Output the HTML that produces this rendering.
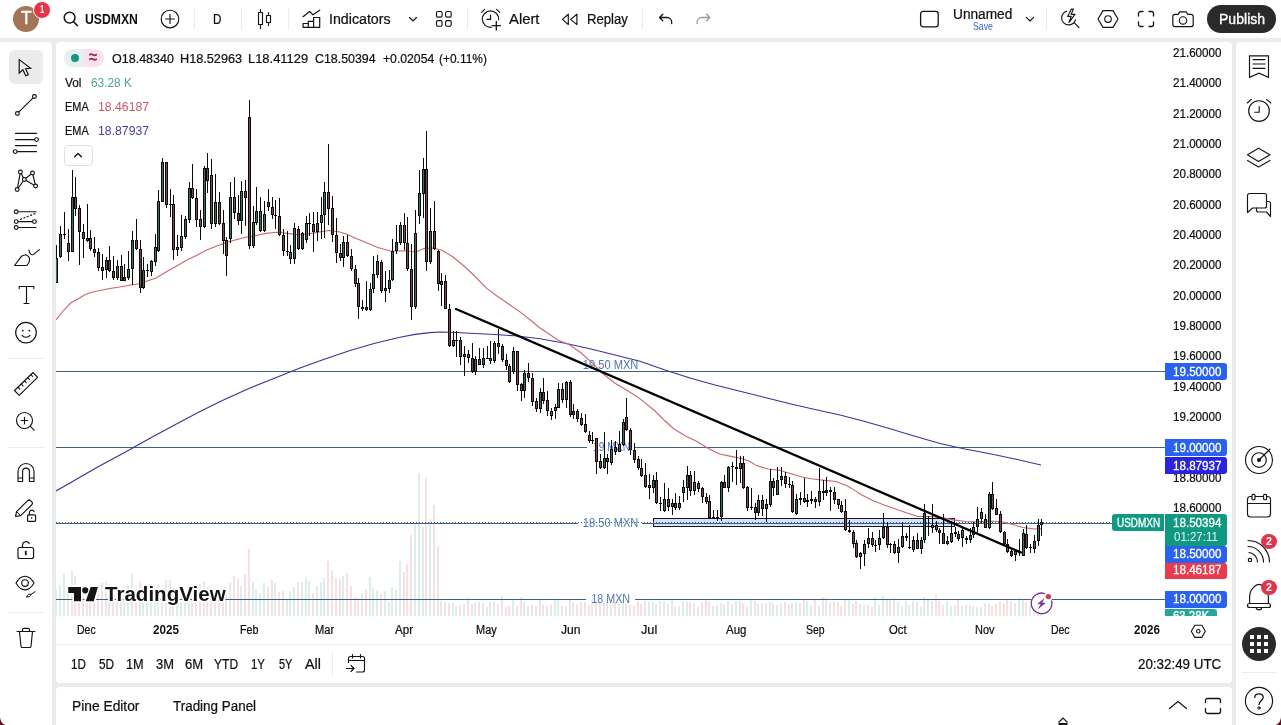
<!DOCTYPE html>
<html lang="en">
<head>
<meta charset="utf-8">
<title>USDMXN 18.50394 ▲ +0.11% Unnamed</title>
<style>
*{box-sizing:border-box;margin:0;padding:0}
html,body{width:1281px;height:725px;overflow:hidden}
body{background:#ebebeb;font-family:"Liberation Sans",sans-serif;color:#0f0f0f;position:relative;font-size:14px}
.abs{position:absolute}
.panel{position:absolute;background:#fff}
#top{left:0;top:0;width:1281px;height:38px}
#left{left:0;top:42px;width:52px;height:683px;border-top-right-radius:4px}
#chart{left:56px;top:42px;width:1176px;height:641px;border-radius:4px;overflow:hidden}
#bottom{left:56px;top:687px;width:1176px;height:38px;border-radius:4px 4px 0 0}
#right{left:1236px;top:42px;width:45px;height:683px;border-top-left-radius:4px}
.t{position:absolute;white-space:nowrap;line-height:1;transform-origin:0 0}
.ic{position:absolute;overflow:visible}
.ic *{fill:none;stroke:#141414;stroke-width:1.15;stroke-linecap:round;stroke-linejoin:round}
.ic .f{fill:#141414;stroke:none}
.ic .w{fill:#fff}
.vsep{position:absolute;width:1px;background:#ececec;top:8px;height:22px}
.hsep{position:absolute;height:1px;background:#ebebeb}
.ax{position:absolute;left:1173px;font-size:11.6px;line-height:12px;white-space:nowrap;color:#0f0f0f}
.lb{position:absolute;left:1165px;width:62px;color:#fff;font-weight:bold;font-size:11.6px;line-height:16px;padding-left:8px;white-space:nowrap;border-radius:0 3px 3px 0;letter-spacing:-0.35px}
.tm{position:absolute;top:623px;font-size:11.6px;line-height:14px;white-space:nowrap;color:#0f0f0f;transform:translateX(-50%)}
.badge{position:absolute;background:#e0364a;border-radius:50%;color:#fff;font-weight:bold;text-align:center}
.rng{position:absolute;top:656px;font-size:13.6px;line-height:16px;white-space:nowrap;color:#0f0f0f}
.lg{position:absolute;font-size:12.3px;line-height:14px;white-space:nowrap;color:#0f0f0f}
</style>
</head>
<body>

<!-- ======= top toolbar ======= -->
<div class="panel" id="top"></div>
<div class="abs" style="left:13px;top:6px;width:26px;height:26px;border-radius:50%;background:#a37556"></div>
<div class="badge" style="left:33px;top:1px;width:18px;height:18px;border:1px solid #fff;background:#ea3347"></div>
<svg class="ic" style="left:62px;top:10px" width="18" height="18" viewBox="0 0 18 18"><circle cx="7.6" cy="7.6" r="5.4" style="stroke-width:1.5"/><path d="M11.6 11.8L15.4 15.6" style="stroke-width:1.5"/></svg>
<svg class="ic" style="left:160px;top:9px" width="20" height="20" viewBox="0 0 20 20"><circle cx="10" cy="10" r="8.8"/><path d="M10 5.6V14.4M5.6 10H14.4"/></svg>
<div class="vsep" style="left:194px"></div>
<div class="vsep" style="left:241px"></div>
<svg class="ic" style="left:255px;top:7px" width="20" height="24" viewBox="0 0 20 24"><path d="M5.5 2.5V5.5M5.5 17.5V21.5M3.5 5.5h4v12h-4zM13.5 5.5V8.5M13.5 15.5V18.5M11.5 8.5h4v7h-4z"/></svg>
<div class="vsep" style="left:288px"></div>
<svg class="ic" style="left:300px;top:6px" width="24" height="24" viewBox="0 0 24 24"><path d="M3 10.700L9.700 5.500L13 8.800L19.700 4.200" style="stroke-width:1.200"/><path d="M3.100 21.300V17.500H8.300V21.300M8.300 17.500V15.300H13.600V21.300M13.600 15.300V11.500H19.700V21.300M2.600 21.300H20.200" style="stroke-width:1.200;stroke-linejoin:miter;stroke-linecap:butt"/></svg>
<svg class="ic" style="left:407px;top:14px" width="12" height="10" viewBox="0 0 12 10"><path d="M2.5 3.5L6 7L9.5 3.5"/></svg>
<svg class="ic" style="left:435px;top:10px" width="18" height="18" viewBox="0 0 18 18"><rect x="1.5" y="1.5" width="5.6" height="5.6" rx="1.4"/><rect x="10.6" y="1.5" width="5.6" height="5.6" rx="1.4"/><rect x="1.5" y="10.6" width="5.6" height="5.6" rx="1.4"/><rect x="10.6" y="10.6" width="5.6" height="5.6" rx="1.4"/></svg>
<div class="vsep" style="left:467px"></div>
<svg class="ic" style="left:479px;top:6px" width="24" height="24" viewBox="0 0 24 24"><path d="M19.700 13.600A8.200 8.200 0 1 0 12.400 21.300"/><path d="M11.600 9V13.400H8"/><path d="M2.600 6.400L5.600 3.400M17.600 3.400L20.600 6.400"/><path d="M17.300 15.500V24M13.100 19.700H21.500" style="stroke-width:1.300"/></svg>
<svg class="ic" style="left:560px;top:11px" width="20" height="16" viewBox="0 0 20 16"><path d="M8.300 3.200V13.600L2.500 8.400zM16.900 3.200V13.600L10.600 8.400z" style="stroke-width:1.150"/></svg>
<div class="vsep" style="left:642px"></div>
<svg class="ic" style="left:655px;top:10px" width="20" height="18" viewBox="0 0 20 18"><path d="M7.800 4.200L4.500 7.500L7.800 10.800M4.900 7.500H12a4.700 4.700 0 0 1 4.700 4.700V13.500" style="stroke-width:1.300"/></svg>
<svg class="ic" style="left:693px;top:10px" width="20" height="18" viewBox="0 0 20 18"><path d="M13.600 4.200L16.900 7.500L13.600 10.800M16.500 7.500H8.800a4.700 4.700 0 0 0 -4.700 4.700V13.500" style="stroke:#9a9a9a;stroke-width:1.300"/></svg>

<svg class="ic" style="left:919px;top:9px" width="22" height="20" viewBox="0 0 22 20"><rect x="1.6" y="2.4" width="17.6" height="15.4" rx="2.6" style="stroke-width:1.3"/></svg>
<svg class="ic" style="left:1024px;top:14px" width="12" height="10" viewBox="0 0 12 10"><path d="M2.4 3.4L6 7L9.6 3.4"/></svg>
<div class="vsep" style="left:1046px"></div>
<svg class="ic" style="left:1058px;top:6px" width="24" height="24" viewBox="0 0 24 24"><path d="M8.6 5.2a7 7 0 1 0 8.8 8.6"/><path d="M16.6 17.2L21 21.6"/><path d="M13.4 3L9.6 10.4H13.2L11 16.4L17 8.4H13.2L15.4 3z"/></svg>
<svg class="ic" style="left:1097px;top:8px" width="22" height="22" viewBox="0 0 22 22"><path d="M6 2.6H16L21 11L16 19.4H6L1 11z" style="stroke-width:1.2"/><circle cx="11" cy="11" r="3.3"/></svg>
<svg class="ic" style="left:1137px;top:10px" width="18" height="18" viewBox="0 0 18 18"><path d="M1.5 6V3.5a2 2 0 0 1 2-2H6M12 1.5h2.5a2 2 0 0 1 2 2V6M16.5 12v2.5a2 2 0 0 1-2 2H12M6 16.5H3.500a2 2 0 0 1-2-2V12" style="stroke-width:1.3"/></svg>
<svg class="ic" style="left:1171.400px;top:8px" width="24" height="22" viewBox="0 0 24 22"><path d="M3.8 6.400H7.200L8.800 3.800H15.200L16.800 6.400H20.200a2 2 0 0 1 2 2V16.600a2 2 0 0 1 -2 2H3.800a2 2 0 0 1 -2-2V8.400a2 2 0 0 1 2-2z" style="stroke-width:1.2"/><circle cx="12" cy="12.400" r="3.700"/></svg>
<div class="abs" style="left:1207px;top:5px;width:69px;height:28px;border-radius:14px;background:#2a2a2a"></div>

<!-- ======= left toolbar ======= -->
<div class="panel" id="left"></div>
<div class="abs" style="left:9px;top:50px;width:34px;height:34px;border-radius:6px;background:#ebebec"></div>
<svg class="ic" style="left:12px;top:53px" width="28" height="28" viewBox="0 0 28 28"><path d="M7.2 6.600V20.200L10.900 16.800L13.700 22.800L16.300 21.600L13.600 15.700L18.600 15.300z" style="stroke-width:1.2;stroke-linejoin:miter"/></svg>
<svg class="ic" style="left:12px;top:91px" width="28" height="28" viewBox="0 0 28 28"><path d="M6.700 21.200L21.100 6.800"/><circle cx="22.400" cy="5.500" r="1.900" class="w"/><circle cx="5.400" cy="22.500" r="1.900" class="w"/></svg>
<svg class="ic" style="left:12px;top:129px" width="28" height="28" viewBox="0 0 28 28"><path d="M3.500 4.400H24.500M3.500 10.600H22.600M3.500 16.600H24.500M5.100 22.600H24.500"/><circle cx="24.500" cy="10.600" r="1.900" class="w"/><circle cx="3.200" cy="22.600" r="1.900" class="w"/></svg>
<svg class="ic" style="left:12px;top:167px" width="28" height="28" viewBox="0 0 28 28"><path d="M8.400 5L5.200 22.500L12.300 12.500L8.400 5M12.300 12.500L20.500 6L23.600 19L12.300 12.500"/><circle cx="8.400" cy="5" r="1.900" class="w"/><circle cx="20.500" cy="6" r="1.900" class="w"/><circle cx="12.300" cy="12.500" r="1.900" class="w"/><circle cx="23.600" cy="19" r="1.900" class="w"/><circle cx="5.200" cy="22.500" r="1.900" class="w"/></svg>
<svg class="ic" style="left:12px;top:205px" width="28" height="28" viewBox="0 0 28 28"><path d="M6 6.700H24M6 16.600H20.500M6 22.500H24"/><path d="M8.500 14.300L23 8.600" style="stroke-dasharray:1.200 2.400"/><circle cx="4.200" cy="6.700" r="1.900" class="w"/><circle cx="4.200" cy="16.600" r="1.900" class="w"/><circle cx="22.400" cy="16.600" r="1.900" class="w"/><circle cx="4.200" cy="22.500" r="1.900" class="w"/></svg>
<svg class="ic" style="left:12px;top:243px" width="28" height="28" viewBox="0 0 28 28"><path d="M2.600 22.500L9 13.800C11 11.400 14.400 11.400 16.400 13.400C18.600 15.600 17.800 19.600 14.800 22.500z"/><path d="M17 7C17 10.400 19.400 12.600 21.600 11.400L27.400 6.600"/></svg>
<svg class="ic" style="left:12px;top:281px" width="28" height="28" viewBox="0 0 28 28"><path d="M7.200 7.600V5.500H21.800V7.600M14.500 5.500V22.500M12 22.500H17"/></svg>
<svg class="ic" style="left:12px;top:319px" width="28" height="28" viewBox="0 0 28 28"><circle cx="14" cy="13.600" r="10.300"/><path d="M10 16.400C11.600 18.800 16.400 18.800 18 16.400"/><circle cx="10.800" cy="11.600" r="0.950" class="f"/><circle cx="17.300" cy="11.600" r="0.950" class="f"/></svg>
<div class="hsep" style="left:8px;top:358px;width:36px"></div>
<svg class="ic" style="left:12px;top:370px" width="28" height="28" viewBox="0 0 28 28"><path d="M2.500 20.500L21 2.500L25.600 7.400L7.200 25.400z"/><path d="M6.200 17.400L7.800 19M9.400 14.200L11 15.800M12.600 11L14.200 12.600M15.800 7.800L17.400 9.400M19 4.800L20.600 6.400"/></svg>
<svg class="ic" style="left:12px;top:407px" width="28" height="28" viewBox="0 0 28 28"><circle cx="12.500" cy="13.500" r="8"/><path d="M18.300 19.400L22.200 23.200M12.500 10.200V16.800M9.200 13.500H15.800"/></svg>
<div class="hsep" style="left:8px;top:447px;width:36px"></div>
<svg class="ic" style="left:12px;top:458px" width="28" height="28" viewBox="0 0 28 28"><path d="M6 23.500V13.500a8 8 0 0 1 16 0V23.500H17.400V13.500a3.400 3.400 0 0 0 -6.800 0V23.500zM6 20H10.600M17.400 20H22"/></svg>
<svg class="ic" style="left:12px;top:497px" width="28" height="28" viewBox="0 0 28 28"><path d="M3.500 19.500L4.600 14.600L15.400 3.800C16.400 2.800 17.800 2.800 18.800 3.800L19.600 4.600C20.600 5.600 20.600 7 19.600 8L8.600 18.600z"/><path d="M4.600 14.600L8.600 18.600" style="stroke-width:1"/><rect x="15.600" y="17.800" width="8" height="6.600" rx="1"/><path d="M17.400 17.800V15.400a2.400 2.400 0 0 1 4.600 -0.800"/><circle cx="19.600" cy="21.100" r="0.800" class="f"/></svg>
<svg class="ic" style="left:12px;top:536px" width="28" height="28" viewBox="0 0 28 28"><rect x="6" y="11.500" width="15.600" height="11" rx="2"/><path d="M10.500 11.500V9a3.600 3.600 0 0 1 6.800 -1.400"/><path d="M13.800 15.600V18.400" style="stroke-width:1.800"/></svg>
<svg class="ic" style="left:12px;top:572px" width="28" height="28" viewBox="0 0 28 28"><path d="M4 11C7 5.600 10.400 4.200 13 4.200C15.600 4.200 19 5.600 22 11C19 16.400 15.600 17.800 13 17.800C10.400 17.800 7 16.400 4 11z"/><circle cx="13" cy="11" r="3.300"/><path d="M14.800 24.800C15.200 22.600 17.200 21.400 19 22.400C18.800 24.400 17 25.200 14.800 24.800zM19 22.400L23.200 19.600" style="stroke-width:1"/></svg>
<div class="hsep" style="left:8px;top:612px;width:36px"></div>
<svg class="ic" style="left:12px;top:623px" width="28" height="28" viewBox="0 0 28 28"><path d="M5 8.500H23M10.500 8.500V6.800a1.400 1.400 0 0 1 1.400 -1.400H16.100a1.400 1.400 0 0 1 1.400 1.400V8.500M7.500 8.500L9 23.200a1.400 1.400 0 0 0 1.400 1.300H17.600a1.400 1.400 0 0 0 1.400 -1.300L20.500 8.500"/></svg>

<!-- ======= right toolbar ======= -->
<div class="panel" id="right"></div>
<svg class="ic" style="left:1245px;top:53px" width="28" height="28" viewBox="0 0 28 28"><path d="M4.500 2.800H23.500V24.400L14 20.200L4.500 24.400z" style="stroke-linejoin:miter"/><path d="M8 6.600H20M8 11H20M8 15.400H20"/></svg>
<svg class="ic" style="left:1245px;top:96px" width="28" height="28" viewBox="0 0 28 28"><circle cx="14" cy="15" r="10.300"/><path d="M14.200 10.500V16.200H9.800"/><path d="M2.200 7L6.400 3.400M21.600 3.400L25.800 7"/></svg>
<svg class="ic" style="left:1245px;top:144px" width="28" height="28" viewBox="0 0 28 28"><path d="M13.500 4.200L25 10.800L13.500 17.500L2.500 10.800z"/><path d="M2.500 16.500L13.500 23L25 16.500"/></svg>
<svg class="ic" style="left:1245px;top:190px" width="28" height="28" viewBox="0 0 28 28"><path d="M4.500 3.500H19.500a2 2 0 0 1 2 2V16a2 2 0 0 1 -2 2H7.500L2.500 22.500V5.500a2 2 0 0 1 2 -2z"/><path d="M21.500 11.500H23.500a2 2 0 0 1 2 2V26.500L21.500 22H13.500a2 2 0 0 1 -2 -2V18"/></svg>
<svg class="ic" style="left:1244px;top:445px" width="30" height="30" viewBox="0 0 30 30"><circle cx="15" cy="15" r="13.500"/><circle cx="15" cy="15" r="7.300"/><circle cx="15" cy="15" r="2" class="f"/><path d="M15 15L26 4"/></svg>
<svg class="ic" style="left:1245px;top:492px" width="28" height="28" viewBox="0 0 28 28"><rect x="2.500" y="4.500" width="23" height="20.500" rx="3"/><path d="M2.500 11.500H25.500"/><rect x="7" y="2.300" width="3" height="5.400" rx="1" class="w"/><rect x="18.600" y="2.300" width="3" height="5.400" rx="1" class="w"/></svg>
<svg class="ic" style="left:1245px;top:537px" width="28" height="28" viewBox="0 0 28 28"><path d="M3 3.500A21.500 21.500 0 0 1 24.500 25M3 9.500A15.500 15.500 0 0 1 18.500 25M4 15.500A9.500 9.500 0 0 1 12.500 25"/><circle cx="5" cy="23" r="1.700"/></svg>
<div class="badge" style="left:1261.300px;top:534.100px;width:15.400px;height:15.400px"></div>
<svg class="ic" style="left:1245px;top:582px" width="28" height="28" viewBox="0 0 28 28"><path d="M4.600 21.500V15C4.600 10.500 6.400 7.600 8.600 5.400C10.200 3.600 11.800 2.400 14 2.400C16.200 2.400 17.800 3.600 19.400 5.400C21.600 7.600 23.400 10.500 23.400 15V21.500"/><rect x="2.500" y="21.500" width="23" height="4" rx="2" class="w"/><path d="M11.200 26C11.800 28.400 16.200 28.400 16.800 26"/></svg>
<div class="badge" style="left:1261.300px;top:579.600px;width:15.400px;height:15.400px"></div>
<div class="abs" style="left:1242px;top:627px;width:34px;height:34px;border-radius:50%;background:#2a2a2a"></div>
<svg class="ic" style="left:1242px;top:627px" width="34" height="34" viewBox="0 0 34 34"><path class="f" style="fill:#fff" d="M8 8h4v4h-4zM15 8h4v4h-4zM22 8h4v4h-4zM8 15h4v4h-4zM15 15h4v4h-4zM22 15h4v4h-4zM8 22h4v4h-4zM15 22h4v4h-4zM22 22h4v4h-4z"/></svg>
<div class="hsep" style="left:1242px;top:672px;width:34px"></div>
<svg class="ic" style="left:1245px;top:686.700px" width="28" height="28" viewBox="0 0 28 28"><circle cx="14" cy="14" r="13.600"/><path d="M9.800 10.400C9.800 5.600 18.200 5.600 18.200 10.400C18.200 13.600 14 13.800 14 17.400" style="stroke-width:1.3"/><circle cx="14" cy="21" r="1.200" style="stroke-width:1"/></svg>

<!-- ======= chart panel ======= -->
<div class="panel" id="chart"></div>
<svg class="abs" style="left:0;top:0" width="1281" height="725" viewBox="0 0 1281 725">
<svg x="56" y="42" width="1109" height="574" viewBox="56 42 1109 574" overflow="hidden">
<path d="M55 590h2V616h-2zM59 585h2V616h-2zM63 574h2V616h-2zM71 571h2V616h-2zM86 601h2V616h-2zM105 582h2V616h-2zM116 595h2V616h-2zM123 588h2V616h-2zM127 585h2V616h-2zM131 574h2V616h-2zM142 595h2V616h-2zM146 601h2V616h-2zM150 602h2V616h-2zM154 597h2V616h-2zM157 584h2V616h-2zM161 588h2V616h-2zM169 580h2V616h-2zM176 592h2V616h-2zM180 602h2V616h-2zM184 603h2V616h-2zM188 598h2V616h-2zM203 581h2V616h-2zM214 592h2V616h-2zM229 583h2V616h-2zM240 586h2V616h-2zM252 582h2V616h-2zM255 590h2V616h-2zM259 593h2V616h-2zM263 583h2V616h-2zM274 583h2V616h-2zM286 599h2V616h-2zM289 591h2V616h-2zM293 587h2V616h-2zM301 582h2V616h-2zM305 578h2V616h-2zM308 581h2V616h-2zM316 586h2V616h-2zM320 582h2V616h-2zM323 578h2V616h-2zM342 576h2V616h-2zM361 593h2V616h-2zM369 577h2V616h-2zM372 588h2V616h-2zM376 591h2V616h-2zM384 591h2V616h-2zM388 602h2V616h-2zM391 587h2V616h-2zM395 590h2V616h-2zM399 561h2V616h-2zM414 524h2V616h-2zM418 473h2V616h-2zM422 527h2V616h-2zM429 519h2V616h-2zM440 601h2V616h-2zM452 603h2V616h-2zM455 606h2V616h-2zM463 604h2V616h-2zM474 603h2V616h-2zM482 603h2V616h-2zM486 607h2V616h-2zM493 601h2V616h-2zM512 600h2V616h-2zM523 601h2V616h-2zM539 600h2V616h-2zM550 605h2V616h-2zM554 599h2V616h-2zM557 600h2V616h-2zM565 607h2V616h-2zM572 602h2V616h-2zM591 600h2V616h-2zM603 603h2V616h-2zM610 605h2V616h-2zM618 604h2V616h-2zM622 600h2V616h-2zM648 602h2V616h-2zM652 602h2V616h-2zM659 601h2V616h-2zM663 601h2V616h-2zM671 600h2V616h-2zM678 606h2V616h-2zM682 601h2V616h-2zM686 601h2V616h-2zM693 603h2V616h-2zM712 606h2V616h-2zM716 605h2V616h-2zM720 603h2V616h-2zM727 601h2V616h-2zM731 604h2V616h-2zM735 601h2V616h-2zM739 601h2V616h-2zM750 599h2V616h-2zM757 604h2V616h-2zM765 603h2V616h-2zM769 602h2V616h-2zM776 605h2V616h-2zM780 603h2V616h-2zM788 604h2V616h-2zM795 602h2V616h-2zM799 603h2V616h-2zM806 601h2V616h-2zM810 605h2V616h-2zM818 606h2V616h-2zM825 598h2V616h-2zM848 600h2V616h-2zM859 604h2V616h-2zM863 605h2V616h-2zM874 597h2V616h-2zM878 605h2V616h-2zM882 596h2V616h-2zM889 600h2V616h-2zM897 602h2V616h-2zM901 606h2V616h-2zM908 605h2V616h-2zM912 601h2V616h-2zM920 607h2V616h-2zM923 597h2V616h-2zM927 600h2V616h-2zM931 601h2V616h-2zM946 601h2V616h-2zM950 606h2V616h-2zM954 605h2V616h-2zM961 606h2V616h-2zM969 605h2V616h-2zM972 606h2V616h-2zM976 607h2V616h-2zM980 607h2V616h-2zM988 604h2V616h-2zM1014 603h2V616h-2zM1018 598h2V616h-2zM1022 599h2V616h-2zM1029 606h2V616h-2zM1033 601h2V616h-2zM1037 602h2V616h-2zM1040 605h2V616h-2z" fill="#dcedeb" shape-rendering="crispEdges"/>
<path d="M67 590h2V616h-2zM74 576h2V616h-2zM78 602h2V616h-2zM82 597h2V616h-2zM89 590h2V616h-2zM93 590h2V616h-2zM97 587h2V616h-2zM101 583h2V616h-2zM108 597h2V616h-2zM112 600h2V616h-2zM120 588h2V616h-2zM135 589h2V616h-2zM139 582h2V616h-2zM165 580h2V616h-2zM172 588h2V616h-2zM191 586h2V616h-2zM195 584h2V616h-2zM199 584h2V616h-2zM206 587h2V616h-2zM210 595h2V616h-2zM218 594h2V616h-2zM222 597h2V616h-2zM225 587h2V616h-2zM233 576h2V616h-2zM237 579h2V616h-2zM244 574h2V616h-2zM248 549h2V616h-2zM267 587h2V616h-2zM271 580h2V616h-2zM278 592h2V616h-2zM282 591h2V616h-2zM297 582h2V616h-2zM312 593h2V616h-2zM327 561h2V616h-2zM331 570h2V616h-2zM335 578h2V616h-2zM339 579h2V616h-2zM346 573h2V616h-2zM350 586h2V616h-2zM354 597h2V616h-2zM357 598h2V616h-2zM365 589h2V616h-2zM380 594h2V616h-2zM403 572h2V616h-2zM406 564h2V616h-2zM410 535h2V616h-2zM425 478h2V616h-2zM433 505h2V616h-2zM437 546h2V616h-2zM444 602h2V616h-2zM448 603h2V616h-2zM459 605h2V616h-2zM467 598h2V616h-2zM471 604h2V616h-2zM478 602h2V616h-2zM489 602h2V616h-2zM497 604h2V616h-2zM501 596h2V616h-2zM505 607h2V616h-2zM508 606h2V616h-2zM516 606h2V616h-2zM520 597h2V616h-2zM527 606h2V616h-2zM531 605h2V616h-2zM535 606h2V616h-2zM542 604h2V616h-2zM546 606h2V616h-2zM561 606h2V616h-2zM569 600h2V616h-2zM576 604h2V616h-2zM580 602h2V616h-2zM584 602h2V616h-2zM588 605h2V616h-2zM595 601h2V616h-2zM599 602h2V616h-2zM606 600h2V616h-2zM614 602h2V616h-2zM625 604h2V616h-2zM629 605h2V616h-2zM633 606h2V616h-2zM637 601h2V616h-2zM640 604h2V616h-2zM644 601h2V616h-2zM655 604h2V616h-2zM667 604h2V616h-2zM674 606h2V616h-2zM689 602h2V616h-2zM697 607h2V616h-2zM701 602h2V616h-2zM705 600h2V616h-2zM708 601h2V616h-2zM723 604h2V616h-2zM742 603h2V616h-2zM746 607h2V616h-2zM754 601h2V616h-2zM761 603h2V616h-2zM772 603h2V616h-2zM784 602h2V616h-2zM791 603h2V616h-2zM803 600h2V616h-2zM814 600h2V616h-2zM822 597h2V616h-2zM829 602h2V616h-2zM833 601h2V616h-2zM837 602h2V616h-2zM840 606h2V616h-2zM844 600h2V616h-2zM852 604h2V616h-2zM855 601h2V616h-2zM867 605h2V616h-2zM871 607h2V616h-2zM886 600h2V616h-2zM893 598h2V616h-2zM905 601h2V616h-2zM916 602h2V616h-2zM935 594h2V616h-2zM938 601h2V616h-2zM942 605h2V616h-2zM957 599h2V616h-2zM965 605h2V616h-2zM984 603h2V616h-2zM991 606h2V616h-2zM995 604h2V616h-2zM999 601h2V616h-2zM1003 603h2V616h-2zM1006 600h2V616h-2zM1010 601h2V616h-2zM1025 602h2V616h-2z" fill="#f6e0e1" shape-rendering="crispEdges"/>
<line x1="56" x2="1165" y1="371.5" y2="371.5" stroke="#40607f" stroke-width="1" shape-rendering="crispEdges"/>
<line x1="56" x2="587" y1="447.5" y2="447.5" stroke="#40607f" stroke-width="1" shape-rendering="crispEdges"/>
<line x1="635" x2="1165" y1="447.5" y2="447.5" stroke="#40607f" stroke-width="1" shape-rendering="crispEdges"/>
<line x1="56" x2="586" y1="599.5" y2="599.5" stroke="#40607f" stroke-width="1" shape-rendering="crispEdges"/>
<line x1="634.5" x2="1165" y1="599.5" y2="599.5" stroke="#40607f" stroke-width="1" shape-rendering="crispEdges"/>
<rect x="653.5" y="518.5" width="301" height="8" fill="#d3e1fa" stroke="#14142a" stroke-width="1" shape-rendering="crispEdges"/>
<line x1="56" x2="1112" y1="522.5" y2="522.5" stroke="#46668a" stroke-width="1" stroke-dasharray="1 2" shape-rendering="crispEdges"/>
<line x1="56" x2="578" y1="523.5" y2="523.5" stroke="#40607f" stroke-width="1" shape-rendering="crispEdges"/>
<line x1="642" x2="1112" y1="523.5" y2="523.5" stroke="#40607f" stroke-width="1" shape-rendering="crispEdges"/>
<text transform="translate(582.80 368.60) scale(0.9265 1)" font-family="'Liberation Sans',sans-serif" font-size="12" fill="#4f76ba">19.50 MXN</text>
<text transform="translate(593.00 451.30) scale(0.8552 1)" font-family="'Liberation Sans',sans-serif" font-size="12" fill="#4f76ba">19 MXN</text>
<text transform="translate(582.80 527.00) scale(0.9265 1)" font-family="'Liberation Sans',sans-serif" font-size="12" fill="#4f76ba">18.50 MXN</text>
<text transform="translate(591.30 603.10) scale(0.8950 1)" font-family="'Liberation Sans',sans-serif" font-size="12" fill="#4f76ba">18 MXN</text>
<polyline fill="none" stroke="#3b3494" stroke-width="1.15" points="56,491 70,483 85,474.3 100,465.8 125,452.2 150,438.2 175,424.8 200,411.6 225,399.3 250,388 275,378 300,368 325,359 350,350.5 375,343.2 400,337.2 415,334.4 430,332.6 440,332 452,332.2 465,333 490,334.3 515,335.8 540,338.8 565,343.3 590,348.8 615,355 640,361.3 665,370 690,378 715,385 740,391.3 765,397.5 790,403.7 815,409.5 840,415 865,421.5 890,428.7 915,436.3 940,443.5 965,449 990,453.8 1015,459 1041,465"/>
<polyline fill="none" stroke="#c9666e" stroke-width="1.1" points="56,320 63,311 70.7,303 77,299.5 84.5,295 91,292.5 97.4,291 110,288.5 118,287.3 128,285.5 138.8,283.8 147,281 156,278 166,272 176.7,266 188,259.5 197.4,255 205,250.7 218,245.6 228,242 238.8,239 247,237 256,235.5 266,233.4 276.7,232.2 287,233.4 297.4,234.8 307.8,234 318,232.2 328.5,230.5 338.8,231.8 347,234.3 356,238.5 360.7,240.3 377,247.2 391,251.2 404.8,250.8 415.9,252 424,248.5 432.4,248 441.4,250 452.8,256.8 464,266 475.6,277 487,288.7 498,296.7 509.7,304.7 521,312.6 532.5,321.8 540,328 549,334 557.8,340 569,344.6 580.6,352.5 592,362.8 603.3,374 614.7,383 626,389.7 637.5,397 645,402.6 655,411 664,420 674,429 685.6,436 697,441.6 708.3,448.5 719.7,454 731,456.4 742.5,458.7 750,461.5 756.4,465.6 767.8,469 779,470.2 790.6,473.5 802,477 813,479 824.7,480.4 836,481.5 847.5,486 855,490.6 861.4,494.7 872.8,500.4 884,505 895.6,509 907,513 918,516.5 929.7,516.5 941,517.6 952.5,519.6 965,521.5 977.8,521.7 989,521 1000.6,521.5 1012,524.3 1023,527.5 1034.7,529 1041.5,528.6"/>
<path d="M56 245h1V283h-1zM60 226h1V258h-1zM64 212h1V239h-1zM68 229h1V261h-1zM72 170h1V252h-1zM75 177h1V216h-1zM79 205h1V265h-1zM83 224h1V258h-1zM87 204h1V242h-1zM90 230h1V251h-1zM94 237h1V257h-1zM98 248h1V271h-1zM102 254h1V280h-1zM106 257h1V278h-1zM109 246h1V272h-1zM113 256h1V280h-1zM117 260h1V280h-1zM121 255h1V281h-1zM124 264h1V281h-1zM128 251h1V280h-1zM132 231h1V285h-1zM136 219h1V250h-1zM140 240h1V293h-1zM143 257h1V289h-1zM147 264h1V277h-1zM151 260h1V276h-1zM155 234h1V266h-1zM158 190h1V252h-1zM162 158h1V202h-1zM166 162h1V208h-1zM170 189h1V217h-1zM173 195h1V260h-1zM177 235h1V256h-1zM181 215h1V251h-1zM185 216h1V239h-1zM189 182h1V223h-1zM192 164h1V199h-1zM196 189h1V227h-1zM200 210h1V240h-1zM204 166h1V228h-1zM207 153h1V193h-1zM211 159h1V229h-1zM215 174h1V227h-1zM219 192h1V225h-1zM223 210h1V254h-1zM226 237h1V276h-1zM230 182h1V243h-1zM234 177h1V219h-1zM238 195h1V225h-1zM241 181h1V234h-1zM245 180h1V226h-1zM249 100h1V249h-1zM253 206h1V248h-1zM256 187h1V225h-1zM260 197h1V232h-1zM264 201h1V232h-1zM268 189h1V211h-1zM272 197h1V219h-1zM275 200h1V229h-1zM279 198h1V236h-1zM283 229h1V256h-1zM287 231h1V256h-1zM290 245h1V264h-1zM294 223h1V264h-1zM298 226h1V250h-1zM302 232h1V250h-1zM306 216h1V243h-1zM309 213h1V236h-1zM313 212h1V252h-1zM317 212h1V241h-1zM321 197h1V239h-1zM324 182h1V238h-1zM328 144h1V225h-1zM332 196h1V242h-1zM336 218h1V263h-1zM340 244h1V261h-1zM343 236h1V267h-1zM347 235h1V257h-1zM351 249h1V271h-1zM355 265h1V287h-1zM358 278h1V319h-1zM362 300h1V311h-1zM366 281h1V311h-1zM370 283h1V311h-1zM373 256h1V293h-1zM377 255h1V278h-1zM381 260h1V293h-1zM385 271h1V302h-1zM389 270h1V293h-1zM392 239h1V281h-1zM396 225h1V254h-1zM400 222h1V245h-1zM404 213h1V250h-1zM407 217h1V271h-1zM411 244h1V320h-1zM415 210h1V309h-1zM419 170h1V224h-1zM423 158h1V218h-1zM426 131h1V271h-1zM430 208h1V264h-1zM434 201h1V250h-1zM438 250h1V291h-1zM441 273h1V306h-1zM445 275h1V309h-1zM449 304h1V347h-1zM453 331h1V347h-1zM456 331h1V357h-1zM460 337h1V365h-1zM464 346h1V376h-1zM468 350h1V363h-1zM472 343h1V373h-1zM475 356h1V375h-1zM479 348h1V365h-1zM483 348h1V368h-1zM487 346h1V359h-1zM490 341h1V364h-1zM494 341h1V363h-1zM498 329h1V354h-1zM502 344h1V362h-1zM506 354h1V370h-1zM509 364h1V383h-1zM513 347h1V374h-1zM517 351h1V391h-1zM521 383h1V401h-1zM524 370h1V398h-1zM528 363h1V382h-1zM532 373h1V406h-1zM536 398h1V412h-1zM540 388h1V413h-1zM543 378h1V404h-1zM547 391h1V416h-1zM551 408h1V420h-1zM555 404h1V419h-1zM558 383h1V408h-1zM562 383h1V403h-1zM566 381h1V408h-1zM570 380h1V417h-1zM573 404h1V419h-1zM577 409h1V422h-1zM581 413h1V426h-1zM585 414h1V433h-1zM589 431h1V443h-1zM592 432h1V444h-1zM596 438h1V474h-1zM600 454h1V469h-1zM604 432h1V469h-1zM607 454h1V474h-1zM611 440h1V465h-1zM615 441h1V455h-1zM619 431h1V452h-1zM623 419h1V446h-1zM626 398h1V431h-1zM630 428h1V455h-1zM634 443h1V463h-1zM638 456h1V470h-1zM641 459h1V477h-1zM645 463h1V488h-1zM649 474h1V499h-1zM653 475h1V493h-1zM656 472h1V504h-1zM660 497h1V511h-1zM664 483h1V512h-1zM668 488h1V511h-1zM672 499h1V515h-1zM675 493h1V510h-1zM679 496h1V510h-1zM683 480h1V502h-1zM687 466h1V500h-1zM690 471h1V496h-1zM694 471h1V495h-1zM698 481h1V492h-1zM702 487h1V503h-1zM706 493h1V504h-1zM709 495h1V519h-1zM713 510h1V518h-1zM717 510h1V521h-1zM721 481h1V521h-1zM724 475h1V488h-1zM728 466h1V492h-1zM732 462h1V482h-1zM736 450h1V485h-1zM740 456h1V483h-1zM743 456h1V489h-1zM747 486h1V511h-1zM751 488h1V510h-1zM755 503h1V520h-1zM758 495h1V516h-1zM762 495h1V516h-1zM766 499h1V522h-1zM770 469h1V507h-1zM773 478h1V496h-1zM777 467h1V495h-1zM781 467h1V486h-1zM785 472h1V488h-1zM789 477h1V488h-1zM792 481h1V513h-1zM796 494h1V515h-1zM800 492h1V505h-1zM804 478h1V503h-1zM807 494h1V507h-1zM811 491h1V504h-1zM815 497h1V508h-1zM819 468h1V506h-1zM823 480h1V500h-1zM826 477h1V496h-1zM830 487h1V511h-1zM834 487h1V504h-1zM838 499h1V509h-1zM841 501h1V513h-1zM845 499h1V531h-1zM849 520h1V533h-1zM853 530h1V548h-1zM856 540h1V558h-1zM860 552h1V569h-1zM864 540h1V566h-1zM868 528h1V548h-1zM872 532h1V547h-1zM875 540h1V552h-1zM879 530h1V550h-1zM883 513h1V539h-1zM887 522h1V548h-1zM890 543h1V553h-1zM894 541h1V554h-1zM898 539h1V563h-1zM902 522h1V548h-1zM906 533h1V541h-1zM909 525h1V549h-1zM913 536h1V552h-1zM917 533h1V549h-1zM921 537h1V554h-1zM924 504h1V543h-1zM928 516h1V536h-1zM932 504h1V533h-1zM936 521h1V532h-1zM939 528h1V544h-1zM943 514h1V544h-1zM947 536h1V545h-1zM951 521h1V543h-1zM955 527h1V537h-1zM958 531h1V541h-1zM962 528h1V547h-1zM966 536h1V544h-1zM970 528h1V543h-1zM973 522h1V538h-1zM977 507h1V533h-1zM981 508h1V523h-1zM985 514h1V528h-1zM989 492h1V529h-1zM992 482h1V510h-1zM996 499h1V515h-1zM1000 511h1V533h-1zM1004 531h1V545h-1zM1007 539h1V553h-1zM1011 549h1V557h-1zM1015 549h1V561h-1zM1019 539h1V556h-1zM1023 529h1V556h-1zM1026 525h1V549h-1zM1030 544h1V553h-1zM1034 535h1V553h-1zM1038 519h1V546h-1zM1041 519h1V536h-1zM55 258h3V283h-3zM59 234h3V257h-3zM63 234h3V235h-3zM67 243h3V252h-3zM71 197h3V252h-3zM74 197h3V209h-3zM78 208h3V232h-3zM82 232h3V239h-3zM86 238h3V241h-3zM89 238h3V249h-3zM93 249h3V253h-3zM97 252h3V268h-3zM101 267h3V271h-3zM105 260h3V270h-3zM108 260h3V271h-3zM112 271h3V278h-3zM116 266h3V278h-3zM120 266h3V281h-3zM123 277h3V281h-3zM127 269h3V278h-3zM131 240h3V269h-3zM135 240h3V249h-3zM139 249h3V288h-3zM142 270h3V288h-3zM146 270h3V271h-3zM150 261h3V272h-3zM154 247h3V262h-3zM157 201h3V251h-3zM161 162h3V202h-3zM165 162h3V205h-3zM169 204h3V205h-3zM172 204h3V250h-3zM176 247h3V250h-3zM180 236h3V248h-3zM184 219h3V237h-3zM188 188h3V220h-3zM191 188h3V198h-3zM195 198h3V220h-3zM199 219h3V227h-3zM203 168h3V227h-3zM206 168h3V181h-3zM210 175h3V224h-3zM214 202h3V224h-3zM218 202h3V224h-3zM222 223h3V241h-3zM225 240h3V256h-3zM229 197h3V239h-3zM233 197h3V213h-3zM237 213h3V221h-3zM240 191h3V221h-3zM244 191h3V198h-3zM248 117h3V246h-3zM252 222h3V246h-3zM255 211h3V223h-3zM259 211h3V231h-3zM263 214h3V231h-3zM267 202h3V207h-3zM271 207h3V215h-3zM274 215h3V216h-3zM278 216h3V235h-3zM282 235h3V251h-3zM286 251h3V252h-3zM289 252h3V259h-3zM293 228h3V259h-3zM297 229h3V249h-3zM301 233h3V249h-3zM305 223h3V240h-3zM308 223h3V224h-3zM312 224h3V232h-3zM316 223h3V232h-3zM320 215h3V223h-3zM323 192h3V215h-3zM327 192h3V209h-3zM331 208h3V235h-3zM335 235h3V253h-3zM339 253h3V258h-3zM342 242h3V258h-3zM346 242h3V256h-3zM350 256h3V269h-3zM354 269h3V284h-3zM357 283h3V307h-3zM361 307h3V309h-3zM365 307h3V310h-3zM369 289h3V310h-3zM372 274h3V289h-3zM376 261h3V275h-3zM380 262h3V291h-3zM384 288h3V291h-3zM388 280h3V289h-3zM391 251h3V280h-3zM395 242h3V251h-3zM399 225h3V243h-3zM403 225h3V243h-3zM406 243h3V269h-3zM410 269h3V307h-3zM414 233h3V307h-3zM418 193h3V216h-3zM422 169h3V194h-3zM425 169h3V262h-3zM429 231h3V262h-3zM433 231h3V249h-3zM437 251h3V284h-3zM440 281h3V285h-3zM444 281h3V309h-3zM448 309h3V346h-3zM452 340h3V346h-3zM455 340h3V341h-3zM459 340h3V357h-3zM463 354h3V357h-3zM467 354h3V358h-3zM471 358h3V372h-3zM474 359h3V372h-3zM478 359h3V365h-3zM482 358h3V365h-3zM486 358h3V359h-3zM489 358h3V361h-3zM493 343h3V361h-3zM497 343h3V347h-3zM501 346h3V360h-3zM505 360h3V366h-3zM508 366h3V382h-3zM512 351h3V372h-3zM516 351h3V385h-3zM520 384h3V391h-3zM523 373h3V391h-3zM527 373h3V378h-3zM531 378h3V402h-3zM535 401h3V409h-3zM539 392h3V409h-3zM542 392h3V401h-3zM546 400h3V411h-3zM550 411h3V416h-3zM554 407h3V411h-3zM557 389h3V408h-3zM561 389h3V400h-3zM565 382h3V400h-3zM569 382h3V415h-3zM572 411h3V415h-3zM576 411h3V419h-3zM580 418h3V425h-3zM584 424h3V432h-3zM588 435h3V441h-3zM591 440h3V441h-3zM595 438h3V462h-3zM599 461h3V468h-3zM603 458h3V468h-3zM606 458h3V462h-3zM610 449h3V463h-3zM614 447h3V452h-3zM618 444h3V452h-3zM622 422h3V445h-3zM625 417h3V430h-3zM629 430h3V450h-3zM633 450h3V460h-3zM637 459h3V468h-3zM640 468h3V476h-3zM644 475h3V487h-3zM648 485h3V488h-3zM652 480h3V488h-3zM655 480h3V503h-3zM659 503h3V504h-3zM663 499h3V511h-3zM667 499h3V507h-3zM671 503h3V507h-3zM674 503h3V508h-3zM678 503h3V508h-3zM682 487h3V493h-3zM686 475h3V488h-3zM689 475h3V491h-3zM693 482h3V491h-3zM697 483h3V489h-3zM701 488h3V497h-3zM705 497h3V502h-3zM708 501h3V518h-3zM712 517h3V518h-3zM716 517h3V518h-3zM720 482h3V517h-3zM723 482h3V488h-3zM727 467h3V488h-3zM731 466h3V467h-3zM735 467h3V469h-3zM739 463h3V469h-3zM742 463h3V488h-3zM746 487h3V508h-3zM750 507h3V508h-3zM754 507h3V513h-3zM757 500h3V513h-3zM761 500h3V509h-3zM765 504h3V509h-3zM769 481h3V505h-3zM772 481h3V488h-3zM776 480h3V495h-3zM780 476h3V480h-3zM784 476h3V484h-3zM788 484h3V485h-3zM791 485h3V512h-3zM795 499h3V514h-3zM799 498h3V500h-3zM803 498h3V502h-3zM806 500h3V502h-3zM810 499h3V501h-3zM814 499h3V502h-3zM818 491h3V502h-3zM822 491h3V493h-3zM825 490h3V493h-3zM829 490h3V492h-3zM833 492h3V500h-3zM837 499h3V505h-3zM840 505h3V512h-3zM844 511h3V530h-3zM848 530h3V532h-3zM852 532h3V544h-3zM855 543h3V557h-3zM859 553h3V557h-3zM863 544h3V554h-3zM867 538h3V544h-3zM871 538h3V545h-3zM874 545h3V546h-3zM878 538h3V545h-3zM882 527h3V538h-3zM886 527h3V545h-3zM889 544h3V545h-3zM893 544h3V553h-3zM897 547h3V553h-3zM901 536h3V547h-3zM905 536h3V538h-3zM908 547h3V548h-3zM912 540h3V550h-3zM916 540h3V549h-3zM920 540h3V549h-3zM923 513h3V540h-3zM927 526h3V527h-3zM931 525h3V528h-3zM935 525h3V530h-3zM938 530h3V533h-3zM942 533h3V544h-3zM946 541h3V544h-3zM950 533h3V542h-3zM954 532h3V534h-3zM957 534h3V539h-3zM961 530h3V538h-3zM965 538h3V540h-3zM969 535h3V540h-3zM972 527h3V535h-3zM976 519h3V527h-3zM980 512h3V519h-3zM984 519h3V528h-3zM988 494h3V528h-3zM991 494h3V509h-3zM995 508h3V515h-3zM999 514h3V532h-3zM1003 532h3V544h-3zM1006 544h3V552h-3zM1010 551h3V556h-3zM1014 551h3V555h-3zM1018 551h3V553h-3zM1022 533h3V556h-3zM1025 534h3V548h-3zM1029 547h3V548h-3zM1033 541h3V549h-3zM1037 525h3V541h-3zM1040 522h3V525h-3z" fill="#0b0b0b" shape-rendering="crispEdges"/>
<path d="M56 259h1V282h-1zM60 235h1V256h-1zM72 198h1V251h-1zM87 239h1V240h-1zM106 261h1V269h-1zM117 267h1V277h-1zM124 278h1V280h-1zM128 270h1V277h-1zM132 241h1V268h-1zM143 271h1V287h-1zM151 262h1V271h-1zM155 248h1V261h-1zM158 202h1V250h-1zM162 163h1V201h-1zM177 248h1V249h-1zM181 237h1V247h-1zM185 220h1V236h-1zM189 189h1V219h-1zM204 169h1V226h-1zM215 203h1V223h-1zM230 198h1V238h-1zM241 192h1V220h-1zM253 223h1V245h-1zM256 212h1V222h-1zM260 212h1V230h-1zM264 215h1V230h-1zM290 253h1V258h-1zM294 229h1V258h-1zM302 234h1V248h-1zM306 224h1V239h-1zM317 224h1V231h-1zM321 216h1V222h-1zM324 193h1V214h-1zM343 243h1V257h-1zM370 290h1V309h-1zM373 275h1V288h-1zM377 262h1V274h-1zM385 289h1V290h-1zM389 281h1V288h-1zM392 252h1V279h-1zM396 243h1V250h-1zM400 226h1V242h-1zM415 234h1V306h-1zM419 194h1V215h-1zM423 170h1V193h-1zM430 232h1V261h-1zM441 282h1V284h-1zM453 341h1V345h-1zM464 355h1V356h-1zM475 360h1V371h-1zM483 359h1V364h-1zM494 344h1V360h-1zM513 352h1V371h-1zM524 374h1V390h-1zM540 393h1V408h-1zM551 412h1V415h-1zM555 408h1V410h-1zM558 390h1V407h-1zM566 383h1V399h-1zM573 412h1V414h-1zM604 459h1V467h-1zM611 450h1V462h-1zM619 445h1V451h-1zM623 423h1V444h-1zM649 486h1V487h-1zM653 481h1V487h-1zM664 500h1V510h-1zM672 504h1V506h-1zM679 504h1V507h-1zM683 488h1V492h-1zM687 476h1V487h-1zM694 483h1V490h-1zM721 483h1V516h-1zM728 468h1V487h-1zM740 464h1V468h-1zM758 501h1V512h-1zM766 505h1V508h-1zM770 482h1V504h-1zM777 481h1V494h-1zM781 477h1V479h-1zM796 500h1V513h-1zM819 492h1V501h-1zM826 491h1V492h-1zM860 554h1V556h-1zM864 545h1V553h-1zM879 539h1V544h-1zM883 528h1V537h-1zM898 548h1V552h-1zM902 537h1V546h-1zM913 541h1V549h-1zM921 541h1V548h-1zM924 514h1V539h-1zM932 526h1V527h-1zM947 542h1V543h-1zM951 534h1V541h-1zM962 531h1V537h-1zM970 536h1V539h-1zM973 528h1V534h-1zM977 520h1V526h-1zM981 513h1V518h-1zM989 495h1V527h-1zM1015 552h1V554h-1zM1023 534h1V555h-1zM1034 542h1V548h-1zM1038 526h1V540h-1zM1041 523h1V524h-1z" fill="#3f6b60" shape-rendering="crispEdges"/>
<path d="M68 244h1V251h-1zM75 198h1V208h-1zM79 209h1V231h-1zM83 233h1V238h-1zM90 239h1V248h-1zM94 250h1V252h-1zM98 253h1V267h-1zM102 268h1V270h-1zM109 261h1V270h-1zM113 272h1V277h-1zM121 267h1V280h-1zM136 241h1V248h-1zM140 250h1V287h-1zM166 163h1V204h-1zM173 205h1V249h-1zM192 189h1V197h-1zM196 199h1V219h-1zM200 220h1V226h-1zM207 169h1V180h-1zM211 176h1V223h-1zM219 203h1V223h-1zM223 224h1V240h-1zM226 241h1V255h-1zM234 198h1V212h-1zM238 214h1V220h-1zM245 192h1V197h-1zM249 118h1V245h-1zM268 203h1V206h-1zM272 208h1V214h-1zM279 217h1V234h-1zM283 236h1V250h-1zM298 230h1V248h-1zM313 225h1V231h-1zM328 193h1V208h-1zM332 209h1V234h-1zM336 236h1V252h-1zM340 254h1V257h-1zM347 243h1V255h-1zM351 257h1V268h-1zM355 270h1V283h-1zM358 284h1V306h-1zM366 308h1V309h-1zM381 263h1V290h-1zM404 226h1V242h-1zM407 244h1V268h-1zM411 270h1V306h-1zM426 170h1V261h-1zM434 232h1V248h-1zM438 252h1V283h-1zM445 282h1V308h-1zM449 310h1V345h-1zM460 341h1V356h-1zM468 355h1V357h-1zM472 359h1V371h-1zM479 360h1V364h-1zM490 359h1V360h-1zM498 344h1V346h-1zM502 347h1V359h-1zM506 361h1V365h-1zM509 367h1V381h-1zM517 352h1V384h-1zM521 385h1V390h-1zM528 374h1V377h-1zM532 379h1V401h-1zM536 402h1V408h-1zM543 393h1V400h-1zM547 401h1V410h-1zM562 390h1V399h-1zM570 383h1V414h-1zM577 412h1V418h-1zM581 419h1V424h-1zM585 425h1V431h-1zM589 436h1V440h-1zM596 439h1V461h-1zM600 462h1V467h-1zM607 459h1V461h-1zM615 448h1V451h-1zM626 418h1V429h-1zM630 431h1V449h-1zM634 451h1V459h-1zM638 460h1V467h-1zM641 469h1V475h-1zM645 476h1V486h-1zM656 481h1V502h-1zM668 500h1V506h-1zM675 504h1V507h-1zM690 476h1V490h-1zM698 484h1V488h-1zM702 489h1V496h-1zM706 498h1V501h-1zM709 502h1V517h-1zM724 483h1V487h-1zM743 464h1V487h-1zM747 488h1V507h-1zM755 508h1V512h-1zM762 501h1V508h-1zM773 482h1V487h-1zM785 477h1V483h-1zM792 486h1V511h-1zM804 499h1V501h-1zM815 500h1V501h-1zM834 493h1V499h-1zM838 500h1V504h-1zM841 506h1V511h-1zM845 512h1V529h-1zM853 533h1V543h-1zM856 544h1V556h-1zM868 539h1V543h-1zM872 539h1V544h-1zM887 528h1V544h-1zM894 545h1V552h-1zM917 541h1V548h-1zM936 526h1V529h-1zM939 531h1V532h-1zM943 534h1V543h-1zM958 535h1V538h-1zM985 520h1V527h-1zM992 495h1V508h-1zM996 509h1V514h-1zM1000 515h1V531h-1zM1004 533h1V543h-1zM1007 545h1V551h-1zM1011 552h1V555h-1zM1026 535h1V547h-1z" fill="#7d4548" shape-rendering="crispEdges"/>
<line x1="456" y1="309" x2="1021" y2="552.5" stroke="#000" stroke-width="2.3" stroke-linecap="round"/>
</svg>
</svg>

<!-- line labels -->

<!-- legend -->
<div class="abs" style="left:64.100px;top:48.900px;width:39.700px;height:17.800px;border-radius:8.900px;background:linear-gradient(90deg,#e4f1ee 0,#e4f1ee 46%,#fce0ea 54%,#fce0ea 100%)"></div>
<div class="abs" style="left:70.900px;top:54.100px;width:7.800px;height:7.800px;border-radius:50%;background:#14967d"></div>
<div class="abs" style="left:64px;top:145px;width:29px;height:21px;border:1px solid #dcdfe6;border-radius:4px;background:#fff"></div>
<svg class="ic" style="left:72px;top:150px" width="12" height="10" viewBox="0 0 12 10"><path d="M2.600 6.800L6 3.400L9.400 6.800" style="stroke-width:1.400"/></svg>

<!-- TradingView logo -->
<svg class="abs" style="left:0;top:0" width="1281" height="725" viewBox="0 0 1281 725">
<path d="M68.200 586.900H81V601.250H74V593.100H68.200zM88.300 590.300a3.100 3.100 0 1 1 -6.200 0a3.100 3.100 0 0 1 6.200 0zM90.700 586.900H97.900L93.800 601.250H85.700z" fill="#fff" stroke="#fff" stroke-width="3.400" stroke-linejoin="round"/>
<path d="M68.200 586.900H81V601.250H74V593.100H68.200zM88.300 590.300a3.100 3.100 0 1 1 -6.200 0a3.100 3.100 0 0 1 6.200 0zM90.700 586.900H97.900L93.800 601.250H85.700z" fill="#141414"/>
</svg>
<div class="t" style="left:105.20px;top:584.37px;font-size:20px;line-height:20px;font-weight:bold;color:#fff;transform:scaleX(1.0273);-webkit-text-stroke:3.6px #fff;">TradingView</div>
<div class="t" style="left:105.20px;top:584.37px;font-size:20px;line-height:20px;font-weight:bold;color:#141414;transform:scaleX(1.0273);">TradingView</div>

<!-- flash circle -->
<svg class="abs" style="left:1029px;top:591px" width="26" height="26" viewBox="0 0 26 26"><circle cx="12.6" cy="12.4" r="10.9" fill="#fff"/><path d="M15.600 2.500A10.300 10.300 0 1 0 22.600 10" fill="none" stroke="#7a2f8f" stroke-width="1.300" stroke-linecap="round"/><path d="M15 7.900L8.700 12.800H12.200L9.500 17.400L16.200 12.100H12.700z" fill="#7a2f8f" stroke="#7a2f8f" stroke-width="0.600" stroke-linejoin="round"/><circle cx="19.400" cy="5.600" r="2.700" fill="#cf3f4d"/></svg>

<!-- price axis -->
<div class="t" style="left:1173.40px;top:46.94px;font-size:12px;line-height:12px;transform:scaleX(0.9687);-webkit-text-stroke:0.22px #0f0f0f;">21.60000</div>
<div class="t" style="left:1173.40px;top:77.28px;font-size:12px;line-height:12px;transform:scaleX(0.9687);-webkit-text-stroke:0.22px #0f0f0f;">21.40000</div>
<div class="t" style="left:1173.40px;top:107.61px;font-size:12px;line-height:12px;transform:scaleX(0.9687);-webkit-text-stroke:0.22px #0f0f0f;">21.20000</div>
<div class="t" style="left:1173.40px;top:137.94px;font-size:12px;line-height:12px;transform:scaleX(0.9687);-webkit-text-stroke:0.22px #0f0f0f;">21.00000</div>
<div class="t" style="left:1173.40px;top:168.28px;font-size:12px;line-height:12px;transform:scaleX(0.9687);-webkit-text-stroke:0.22px #0f0f0f;">20.80000</div>
<div class="t" style="left:1173.40px;top:198.61px;font-size:12px;line-height:12px;transform:scaleX(0.9687);-webkit-text-stroke:0.22px #0f0f0f;">20.60000</div>
<div class="t" style="left:1173.40px;top:228.95px;font-size:12px;line-height:12px;transform:scaleX(0.9687);-webkit-text-stroke:0.22px #0f0f0f;">20.40000</div>
<div class="t" style="left:1173.40px;top:259.28px;font-size:12px;line-height:12px;transform:scaleX(0.9687);-webkit-text-stroke:0.22px #0f0f0f;">20.20000</div>
<div class="t" style="left:1173.40px;top:289.61px;font-size:12px;line-height:12px;transform:scaleX(0.9687);-webkit-text-stroke:0.22px #0f0f0f;">20.00000</div>
<div class="t" style="left:1173.40px;top:319.95px;font-size:12px;line-height:12px;transform:scaleX(0.9687);-webkit-text-stroke:0.22px #0f0f0f;">19.80000</div>
<div class="t" style="left:1173.40px;top:350.28px;font-size:12px;line-height:12px;transform:scaleX(0.9687);-webkit-text-stroke:0.22px #0f0f0f;">19.60000</div>
<div class="t" style="left:1173.40px;top:380.62px;font-size:12px;line-height:12px;transform:scaleX(0.9687);-webkit-text-stroke:0.22px #0f0f0f;">19.40000</div>
<div class="t" style="left:1173.40px;top:410.95px;font-size:12px;line-height:12px;transform:scaleX(0.9687);-webkit-text-stroke:0.22px #0f0f0f;">19.20000</div>
<div class="t" style="left:1173.40px;top:471.62px;font-size:12px;line-height:12px;transform:scaleX(0.9687);-webkit-text-stroke:0.22px #0f0f0f;">18.80000</div>
<div class="t" style="left:1173.40px;top:501.95px;font-size:12px;line-height:12px;transform:scaleX(0.9687);-webkit-text-stroke:0.22px #0f0f0f;">18.60000</div>
<div class="lb" style="top:363px;height:17px;background:#2a62f0"></div>
<div class="lb" style="top:439px;height:17px;background:#2a62f0"></div>
<div class="lb" style="top:457px;height:17px;background:#2a22dc"></div>
<div class="lb" style="left:1112px;width:52px;top:514px;height:17px;background:#0f9981;border-radius:3px 0 0 3px;padding-left:4.500px;font-weight:normal;letter-spacing:-0.500px;-webkit-text-stroke:0.3px #fff"></div>
<div class="lb" style="top:514px;height:32px;background:#0f9981;line-height:15px;padding-top:1px"></div>
<div class="lb" style="top:546px;height:16.500px;background:#2a62f0"></div>
<div class="lb" style="top:562.500px;height:16.500px;background:#ea3a4d"></div>
<div class="lb" style="top:591px;height:16.500px;background:#2a62f0"></div>
<div class="abs" style="left:1165px;top:608.500px;width:52px;height:7.500px;overflow:hidden;background:#26a69a;border-radius:0 3px 0 0"></div>

<!-- time axis -->
<div class="hsep" style="left:56px;top:644px;width:1176px;background:#ebebeb"></div>
<svg class="ic" style="left:1190.300px;top:622.500px" width="16.600" height="16.600" viewBox="0 0 18 18"><path d="M5.200 2.400H12.800L16.600 9L12.800 15.600H5.200L1.400 9z" style="stroke-width:1.200"/><circle cx="9" cy="9" r="1.900" style="stroke-width:1.200"/></svg>

<!-- range bar -->
<div class="vsep" style="left:332px;top:652px;height:24px"></div>
<svg class="ic" style="left:344px;top:652px" width="24" height="24" viewBox="0 0 24 24"><path d="M4.500 10.500V6.500a2 2 0 0 1 2 -2H18.500a2 2 0 0 1 2 2V18a2 2 0 0 1 -2 2H12.500M4.500 8.500H20.500M8.500 2.500V6M16.500 2.500V6M2.500 16.500H9.500M7 13.500L10 16.500L7 19.500"/></svg>

<!-- bottom panel -->
<div class="panel" id="bottom"></div>
<svg class="ic" style="left:1166px;top:696px" width="24" height="18" viewBox="0 0 24 18"><path d="M3.500 12.500L12 5.500L20.500 12.500" style="stroke-width:1.200"/></svg>
<svg class="ic" style="left:1203px;top:696px" width="20" height="20" viewBox="0 0 20 20"><path d="M2.500 6.500V4.500a2 2 0 0 1 2 -2H15.500a2 2 0 0 1 2 2V6.500M17.500 12.500V15.500a2 2 0 0 1 -2 2H4.500a2 2 0 0 1 -2 -2V12.500" style="stroke-width:1.300"/></svg>
<svg class="abs" style="left:1057px;top:716px" width="12" height="9" viewBox="0 0 12 9"><path d="M1.500 6.500L6 2L10.500 6.500" fill="none" stroke="#141414" stroke-width="1.200"/><path d="M1.500 7h9v2h-9z" fill="#141414"/></svg>
<div class="t" style="left:20.80px;top:9.44px;font-size:18.5px;line-height:18.5px;color:#fff;transform:scaleX(0.9364);-webkit-text-stroke:0.5px #fff;">T</div>
<div class="t" style="left:88.80px;top:47.96px;font-size:18px;line-height:18px;font-weight:bold;color:#8a2f5c;transform:scaleX(0.8500);">≈</div>
<div class="t" style="left:39.90px;top:3.89px;font-size:11px;line-height:11px;font-weight:bold;color:#fff;transform:scaleX(0.6833);">1</div>
<div class="t" style="left:84.90px;top:12.05px;font-size:14px;line-height:14px;font-weight:bold;transform:scaleX(0.8719);">USDMXN</div>
<div class="t" style="left:213.17px;top:11.75px;font-size:14px;line-height:14px;transform:scaleX(0.8333);-webkit-text-stroke:0.22px #0f0f0f;">D</div>
<div class="t" style="left:328.88px;top:11.75px;font-size:14px;line-height:14px;transform:scaleX(1.0151);-webkit-text-stroke:0.22px #0f0f0f;">Indicators</div>
<div class="t" style="left:509.20px;top:11.75px;font-size:14px;line-height:14px;transform:scaleX(1.0590);-webkit-text-stroke:0.22px #0f0f0f;">Alert</div>
<div class="t" style="left:586.86px;top:11.75px;font-size:14px;line-height:14px;transform:scaleX(0.9371);-webkit-text-stroke:0.22px #0f0f0f;">Replay</div>
<div class="t" style="left:953.02px;top:6.85px;font-size:14px;line-height:14px;transform:scaleX(0.9776);-webkit-text-stroke:0.22px #0f0f0f;">Unnamed</div>
<div class="t" style="left:973.20px;top:21.09px;font-size:11px;line-height:11px;color:#3a63c8;transform:scaleX(0.7934);">Save</div>
<div class="t" style="left:1218.70px;top:11.75px;font-size:14px;line-height:14px;color:#fff;transform:scaleX(1.0038);-webkit-text-stroke:0.35px #fff;">Publish</div>
<div class="t" style="left:112.30px;top:51.80px;font-size:13px;line-height:13px;transform:scaleX(0.9625);-webkit-text-stroke:0.22px #0f0f0f;">O18.48340</div>
<div class="t" style="left:179.82px;top:51.80px;font-size:13px;line-height:13px;transform:scaleX(0.9763);-webkit-text-stroke:0.22px #0f0f0f;">H18.52963</div>
<div class="t" style="left:248.01px;top:51.80px;font-size:13px;line-height:13px;transform:scaleX(0.9940);-webkit-text-stroke:0.22px #0f0f0f;">L18.41129</div>
<div class="t" style="left:314.80px;top:51.80px;font-size:13px;line-height:13px;transform:scaleX(0.9530);-webkit-text-stroke:0.22px #0f0f0f;">C18.50394</div>
<div class="t" style="left:382.80px;top:51.80px;font-size:13px;line-height:13px;transform:scaleX(0.9383);-webkit-text-stroke:0.22px #0f0f0f;">+0.02054</div>
<div class="t" style="left:439.30px;top:51.80px;font-size:13px;line-height:13px;transform:scaleX(0.9186);-webkit-text-stroke:0.22px #0f0f0f;">(+0.11%)</div>
<div class="t" style="left:65.40px;top:75.80px;font-size:13px;line-height:13px;transform:scaleX(0.9129);-webkit-text-stroke:0.22px #0f0f0f;">Vol</div>
<div class="t" style="left:90.80px;top:75.80px;font-size:13px;line-height:13px;color:#4fa39a;transform:scaleX(0.9104);">63.28 K</div>
<div class="t" style="left:64.86px;top:99.80px;font-size:13px;line-height:13px;transform:scaleX(0.8400);-webkit-text-stroke:0.22px #0f0f0f;">EMA</div>
<div class="t" style="left:97.80px;top:99.80px;font-size:13px;line-height:13px;color:#c85a66;transform:scaleX(0.9427);">18.46187</div>
<div class="t" style="left:64.86px;top:123.80px;font-size:13px;line-height:13px;transform:scaleX(0.8400);-webkit-text-stroke:0.22px #0f0f0f;">EMA</div>
<div class="t" style="left:97.80px;top:123.80px;font-size:13px;line-height:13px;color:#4340a6;transform:scaleX(0.9427);">18.87937</div>
<div class="t" style="left:1173.40px;top:365.64px;font-size:12px;line-height:12px;color:#fff;transform:scaleX(0.9687);-webkit-text-stroke:0.3px #fff;">19.50000</div>
<div class="t" style="left:1173.40px;top:441.84px;font-size:12px;line-height:12px;color:#fff;transform:scaleX(0.9687);-webkit-text-stroke:0.3px #fff;">19.00000</div>
<div class="t" style="left:1173.40px;top:459.64px;font-size:12px;line-height:12px;color:#fff;transform:scaleX(0.9687);-webkit-text-stroke:0.3px #fff;">18.87937</div>
<div class="t" style="left:1117.00px;top:516.74px;font-size:12px;line-height:12px;color:#fff;transform:scaleX(0.8279);-webkit-text-stroke:0.3px #fff;">USDMXN</div>
<div class="t" style="left:1173.40px;top:516.74px;font-size:12px;line-height:12px;color:#fff;transform:scaleX(0.9687);-webkit-text-stroke:0.3px #fff;">18.50394</div>
<div class="t" style="left:1173.90px;top:530.64px;font-size:12px;line-height:12px;color:#e6f5f2;transform:scaleX(0.9578);">01:27:11</div>
<div class="t" style="left:1173.40px;top:547.54px;font-size:12px;line-height:12px;color:#fff;transform:scaleX(0.9687);-webkit-text-stroke:0.3px #fff;">18.50000</div>
<div class="t" style="left:1173.40px;top:564.14px;font-size:12px;line-height:12px;color:#fff;transform:scaleX(0.9687);-webkit-text-stroke:0.3px #fff;">18.46187</div>
<div class="t" style="left:1173.40px;top:593.34px;font-size:12px;line-height:12px;color:#fff;transform:scaleX(0.9687);-webkit-text-stroke:0.3px #fff;">18.00000</div>
<div class="t" style="left:1173.40px;top:610.44px;font-size:12px;line-height:12px;color:#fff;transform:scaleX(0.9493);clip-path:inset(0 0 6.4px 0);-webkit-text-stroke:0.3px #fff;">63.28K</div>
<div class="t" style="left:77.30px;top:623.74px;font-size:12px;line-height:12px;transform:scaleX(0.8763);-webkit-text-stroke:0.22px #0f0f0f;">Dec</div>
<div class="t" style="left:239.80px;top:623.74px;font-size:12px;line-height:12px;transform:scaleX(0.8903);-webkit-text-stroke:0.22px #0f0f0f;">Feb</div>
<div class="t" style="left:314.80px;top:623.74px;font-size:12px;line-height:12px;transform:scaleX(0.9289);-webkit-text-stroke:0.22px #0f0f0f;">Mar</div>
<div class="t" style="left:394.50px;top:623.74px;font-size:12px;line-height:12px;transform:scaleX(0.9637);-webkit-text-stroke:0.22px #0f0f0f;">Apr</div>
<div class="t" style="left:476.30px;top:623.74px;font-size:12px;line-height:12px;transform:scaleX(0.9131);-webkit-text-stroke:0.22px #0f0f0f;">May</div>
<div class="t" style="left:560.50px;top:623.74px;font-size:12px;line-height:12px;transform:scaleX(1.0068);-webkit-text-stroke:0.22px #0f0f0f;">Jun</div>
<div class="t" style="left:641.30px;top:623.74px;font-size:12px;line-height:12px;transform:scaleX(1.0563);-webkit-text-stroke:0.22px #0f0f0f;">Jul</div>
<div class="t" style="left:725.80px;top:623.74px;font-size:12px;line-height:12px;transform:scaleX(0.9527);-webkit-text-stroke:0.22px #0f0f0f;">Aug</div>
<div class="t" style="left:805.50px;top:623.74px;font-size:12px;line-height:12px;transform:scaleX(0.8672);-webkit-text-stroke:0.22px #0f0f0f;">Sep</div>
<div class="t" style="left:888.80px;top:623.74px;font-size:12px;line-height:12px;transform:scaleX(0.9413);-webkit-text-stroke:0.22px #0f0f0f;">Oct</div>
<div class="t" style="left:975.00px;top:623.74px;font-size:12px;line-height:12px;transform:scaleX(0.9138);-webkit-text-stroke:0.22px #0f0f0f;">Nov</div>
<div class="t" style="left:1050.70px;top:623.74px;font-size:12px;line-height:12px;transform:scaleX(0.8716);-webkit-text-stroke:0.22px #0f0f0f;">Dec</div>
<div class="t" style="left:153.00px;top:623.74px;font-size:12px;line-height:12px;font-weight:bold;transform:scaleX(0.9733);">2025</div>
<div class="t" style="left:1133.80px;top:623.74px;font-size:12px;line-height:12px;font-weight:bold;transform:scaleX(0.9696);">2026</div>
<div class="t" style="left:70.67px;top:657.05px;font-size:14px;line-height:14px;transform:scaleX(0.8340);-webkit-text-stroke:0.22px #0f0f0f;">1D</div>
<div class="t" style="left:98.50px;top:657.05px;font-size:14px;line-height:14px;transform:scaleX(0.8434);-webkit-text-stroke:0.22px #0f0f0f;">5D</div>
<div class="t" style="left:126.39px;top:657.05px;font-size:14px;line-height:14px;transform:scaleX(0.9108);-webkit-text-stroke:0.22px #0f0f0f;">1M</div>
<div class="t" style="left:155.50px;top:657.05px;font-size:14px;line-height:14px;transform:scaleX(0.9209);-webkit-text-stroke:0.22px #0f0f0f;">3M</div>
<div class="t" style="left:184.80px;top:657.05px;font-size:14px;line-height:14px;transform:scaleX(0.9315);-webkit-text-stroke:0.22px #0f0f0f;">6M</div>
<div class="t" style="left:214.00px;top:657.05px;font-size:14px;line-height:14px;transform:scaleX(0.8605);-webkit-text-stroke:0.22px #0f0f0f;">YTD</div>
<div class="t" style="left:250.98px;top:657.05px;font-size:14px;line-height:14px;transform:scaleX(0.8161);-webkit-text-stroke:0.22px #0f0f0f;">1Y</div>
<div class="t" style="left:278.50px;top:657.05px;font-size:14px;line-height:14px;transform:scaleX(0.7759);-webkit-text-stroke:0.22px #0f0f0f;">5Y</div>
<div class="t" style="left:305.30px;top:657.05px;font-size:14px;line-height:14px;transform:scaleX(1.0163);-webkit-text-stroke:0.22px #0f0f0f;">All</div>
<div class="t" style="left:1138.10px;top:657.15px;font-size:14px;line-height:14px;transform:scaleX(0.9546);-webkit-text-stroke:0.22px #0f0f0f;">20:32:49 UTC</div>
<div class="t" style="left:71.92px;top:699.25px;font-size:14px;line-height:14px;transform:scaleX(0.9850);-webkit-text-stroke:0.22px #0f0f0f;">Pine Editor</div>
<div class="t" style="left:173.00px;top:699.25px;font-size:14px;line-height:14px;transform:scaleX(0.9591);-webkit-text-stroke:0.22px #0f0f0f;">Trading Panel</div>
<div class="t" style="left:1266.20px;top:536.17px;font-size:11.5px;line-height:11.5px;font-weight:bold;color:#fff;transform:scaleX(0.9333);">2</div>
<div class="t" style="left:1266.20px;top:581.67px;font-size:11.5px;line-height:11.5px;font-weight:bold;color:#fff;transform:scaleX(0.9333);">2</div>
<!-- window corner arcs -->
<svg class="abs" style="left:0;top:717px" width="6" height="8" viewBox="0 0 6 8"><path d="M0 0C0.500 4 2 7 5.500 8H0z" fill="#5a1020"/></svg>
<svg class="abs" style="left:1275px;top:717px" width="6" height="8" viewBox="0 0 6 8"><path d="M6 0C5.500 4 4 7 0.500 8H6z" fill="#5a1020"/></svg>
</body>
</html>
